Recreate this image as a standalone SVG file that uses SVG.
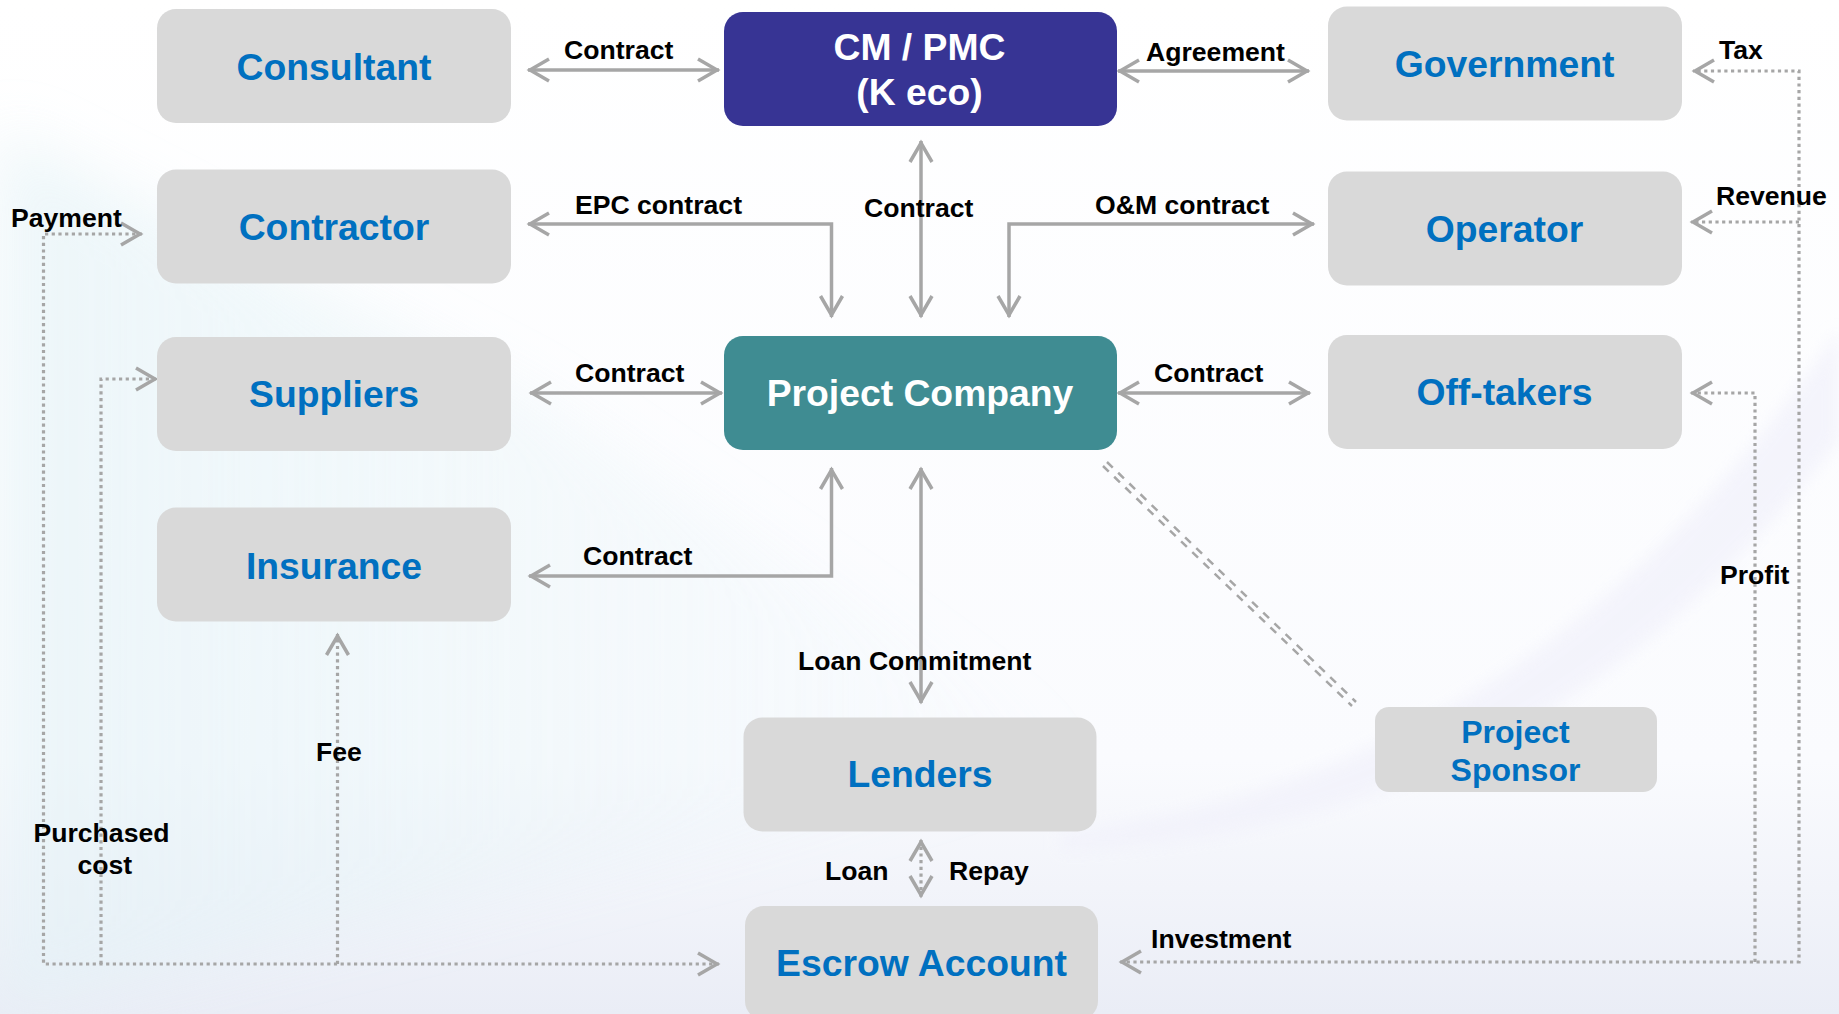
<svg xmlns="http://www.w3.org/2000/svg" width="1839" height="1014" viewBox="0 0 1839 1014">
<defs>
<linearGradient id="bgv" x1="0" y1="0" x2="0" y2="1"><stop offset="0" stop-color="#ffffff"/><stop offset="0.75" stop-color="#fafbfe"/><stop offset="1" stop-color="#eaedf6"/></linearGradient>
<linearGradient id="bgl" x1="0" y1="0" x2="1" y2="0"><stop offset="0" stop-color="#e2f2f6" stop-opacity="0.8"/><stop offset="1" stop-color="#e2f2f6" stop-opacity="0"/></linearGradient>
<filter id="soft" x="-20%" y="-20%" width="140%" height="140%"><feGaussianBlur stdDeviation="30"/></filter>
<filter id="soft2" x="-20%" y="-20%" width="140%" height="140%"><feGaussianBlur stdDeviation="8"/></filter>
<marker id="a" markerUnits="userSpaceOnUse" markerWidth="32" markerHeight="30" refX="25" refY="15" orient="auto-start-reverse"><path d="M4 4 L23 15 L4 26" fill="none" stroke="#a6a6a6" stroke-width="3.5"/></marker>
</defs>
<style>
.b{fill:#d9d9d9}
.t{font-family:"Liberation Sans",Arial,sans-serif;font-weight:700;font-size:37.300px;fill:#0070c0;text-anchor:middle}
.w{fill:#fff}
.l{font-family:"Liberation Sans",Arial,sans-serif;font-weight:700;font-size:26.600px;fill:#000}
.s{fill:none;stroke:#a6a6a6;stroke-width:3.500}
.d{fill:none;stroke:#a6a6a6;stroke-width:3.200;stroke-dasharray:3.200 3.500}
.dd{fill:none;stroke:#a6a6a6;stroke-width:2.500;stroke-dasharray:8 7.500}
</style>
<rect id="bg" width="1839" height="1014" fill="url(#bgv)"/>
<path d="M0 130 L540 400 L1100 760 L0 1014 Z" fill="url(#bgl)" opacity="0.75" filter="url(#soft)"/>
<path d="M1060 835 C1400 790 1640 620 1839 330 L1839 440 C1650 690 1400 840 1060 850 Z" fill="#f1f1fb" opacity="0.7" filter="url(#soft2)"/>
<g id="connectors">
<path class="s" d="M528 70H719" marker-start="url(#a)" marker-end="url(#a)"/>
<path class="s" d="M1118 71H1309" marker-start="url(#a)" marker-end="url(#a)"/>
<path class="s" d="M921 141V317" marker-start="url(#a)" marker-end="url(#a)"/>
<path class="s" d="M831.500 317V224H528" marker-start="url(#a)" marker-end="url(#a)"/>
<path class="s" d="M1009 317V224H1314" marker-start="url(#a)" marker-end="url(#a)"/>
<path class="s" d="M530 393H722" marker-start="url(#a)" marker-end="url(#a)"/>
<path class="s" d="M1118 393H1310" marker-start="url(#a)" marker-end="url(#a)"/>
<path class="s" d="M831.500 468V576H529" marker-start="url(#a)" marker-end="url(#a)"/>
<path class="s" d="M921 468V703" marker-start="url(#a)" marker-end="url(#a)"/>
<path class="d" d="M921 840V897" marker-start="url(#a)" marker-end="url(#a)"/>
<path class="d" d="M142 234H43.500V964H719" marker-start="url(#a)" marker-end="url(#a)"/>
<path class="d" d="M101 964V379H157" marker-end="url(#a)"/>
<path class="d" d="M337.500 964V634" marker-end="url(#a)"/>
<path class="d" d="M1120 962H1799V71H1693" marker-start="url(#a)" marker-end="url(#a)"/>
<path class="d" d="M1799 222H1691" marker-end="url(#a)"/>
<path class="d" d="M1755 962V393H1691" marker-end="url(#a)"/>
<path class="dd" d="M1103 466L1352 706"/>
<path class="dd" d="M1107 462L1356 702"/>
</g>
<g id="consultant"><rect class="b" x="157" y="9" width="354" height="114" rx="19"/><text class="t" x="334" y="80">Consultant</text></g>
<g id="contractor"><rect class="b" x="157" y="169.500" width="354" height="114" rx="19"/><text class="t" x="334" y="240">Contractor</text></g>
<g id="suppliers"><rect class="b" x="157" y="337" width="354" height="114" rx="19"/><text class="t" x="334" y="407">Suppliers</text></g>
<g id="insurance"><rect class="b" x="157" y="507.500" width="354" height="114" rx="19"/><text class="t" x="334" y="579">Insurance</text></g>
<g id="cm-pmc"><rect x="724" y="12" width="393" height="114" rx="19" fill="#373494"/><text class="t w" x="919.500" y="60">CM / PMC</text><text class="t w" x="919.500" y="105">(K eco)</text></g>
<g id="project-company"><rect x="724" y="336" width="393" height="114" rx="19" fill="#3f8c92"/><text class="t w" x="920" y="406">Project Company</text></g>
<g id="government"><rect class="b" x="1328" y="6.500" width="354" height="114" rx="19"/><text class="t" x="1504.500" y="77">Government</text></g>
<g id="operator"><rect class="b" x="1328" y="171.500" width="354" height="114" rx="19"/><text class="t" x="1504.500" y="242">Operator</text></g>
<g id="off-takers"><rect class="b" x="1328" y="335" width="354" height="114" rx="19"/><text class="t" x="1504.500" y="405">Off-takers</text></g>
<g id="lenders"><rect class="b" x="743.500" y="717.500" width="353" height="114" rx="19"/><text class="t" x="920" y="787">Lenders</text></g>
<g id="escrow"><rect class="b" x="745" y="906" width="353" height="114" rx="19"/><text class="t" x="921.500" y="976">Escrow Account</text></g>
<g id="sponsor"><rect class="b" x="1375" y="707" width="282" height="85" rx="14"/><text class="t" style="font-size:32px" x="1515.500" y="743">Project</text><text class="t" style="font-size:32px" x="1515.500" y="781">Sponsor</text></g>
<g id="labels">
<text class="l" x="564" y="59">Contract</text>
<text class="l" x="1146" y="61">Agreement</text>
<text class="l" x="1719" y="59">Tax</text>
<text class="l" x="575" y="214">EPC contract</text>
<text class="l" x="864" y="217">Contract</text>
<text class="l" x="1095" y="214">O&amp;M contract</text>
<text class="l" x="1716" y="205">Revenue</text>
<text class="l" x="11" y="227">Payment</text>
<text class="l" x="575" y="381.500">Contract</text>
<text class="l" x="1154" y="381.500">Contract</text>
<text class="l" x="583" y="565">Contract</text>
<text class="l" x="798" y="669.500">Loan Commitment</text>
<text class="l" x="316" y="761">Fee</text>
<text class="l" x="33.500" y="842">Purchased</text>
<text class="l" x="77.500" y="874">cost</text>
<text class="l" x="825" y="880">Loan</text>
<text class="l" x="949" y="880">Repay</text>
<text class="l" x="1151" y="948">Investment</text>
<text class="l" x="1720" y="584">Profit</text>
</g>
</svg>
